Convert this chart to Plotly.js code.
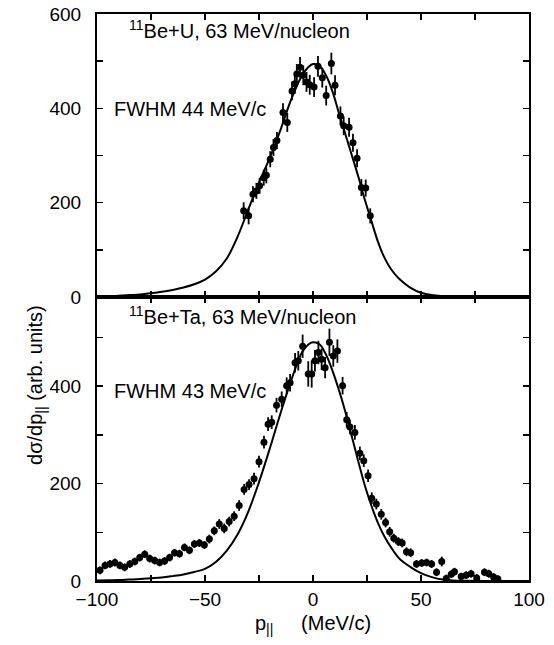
<!DOCTYPE html>
<html>
<head>
<meta charset="utf-8">
<script src="https://cdn.plot.ly/plotly-3.0.1.min.js"></script>
<style>html,body{margin:0;padding:0;background:#fff;}#chart{width:554px;height:645px;}</style>
</head>
<body>
<div id="chart"></div>
<script>
// ---- Data ----
// Upper panel: 11Be + U
const topP = [-32.1,-29.8,-27.8,-26.2,-24.7,-22.8,-21.6,-19.8,-18.3,-16.7,-13.9,-11.9,-9.7,-8.4,-7.5,-6.0,-4.5,-3.0,-1.5,0.5,2.3,4.3,6.1,8.5,10.2,12.7,14.2,16.7,18.5,20.4,22.4,24.4,26.5];
const topV = [183,172,218,225,236,253,258,292,317,332,391,370,437,452,473,487,470,456,450,445,489,465,427,495,449,384,363,360,327,294,232,231,172];
const topE = [18,18,17,17,17,17,17,17,18,18,20,20,20,21,21,22,21,21,21,21,22,21,21,23,21,20,20,20,19,19,18,18,16];
const topCurveP = [-100,-95,-90,-85,-80,-75,-70,-65,-60,-55,-50,-45,-40,-35,-30,-25,-20,-15,-10,-5,-2,0,3,6,9,12,15,18,21,24,27,30,33,36,40,45,50,55,60,65,70,80,100];
const topCurveV = [0.5,1.5,2.5,4,5.5,8,11,15,20,27,37,54,81,127,185,243,295,355,420,470,488,494,490,470,436,390,345,300,255,206,162,118,84,60,38,20,9,4,2,1,0.5,0,0];

// Lower panel: 11Be + Ta
const botP = [-98.6,-96.3,-94.0,-91.7,-89.4,-87.2,-84.8,-82.5,-80.2,-77.9,-75.6,-73.3,-71.0,-68.7,-66.4,-64.1,-61.8,-59.5,-57.2,-54.9,-52.6,-50.3,-48.0,-45.7,-43.4,-41.1,-38.8,-36.5,-34.2,-31.9,-29.6,-27.3,-25.0,-22.7,-20.8,-19.1,-16.9,-14.5,-12.2,-10.6,-8.3,-6.8,-4.8,-2.2,-0.6,0.9,2.5,4.0,5.6,7.6,9.4,11.3,13.7,15.6,17.1,19.4,21.7,23.5,25.5,27.2,29.3,31.6,33.6,35.5,37.4,39.5,41.3,43.3,45.2,47.9,50.3,52.6,54.9,57.2,59.6,61.7,64.0,65.5,68.6,70.9,73.2,75.8,79.4,81.4,83.6,85.6];
const botV = [22,32,35,38,32,28,35,40,48,55,46,42,38,41,48,58,56,69,63,76,78,74,86,103,117,108,122,133,155,188,198,210,245,285,322,326,361,373,401,407,448,452,482,425,425,452,469,455,438,490,462,472,401,331,316,305,262,247,216,170,158,137,120,101,88,81,78,60,58,35,37,38,35,18,40,5,14,19,9,12,15,6,18,15,8,4];
const botE = [8,8,8,8,8,8,8,8,8,8,8,8,8,8,8,8,8,8,8,8,8,8,
              9,9,10,10,10,10,11,11,11,12,
              12,13,14,14,15,16,17,18,
              20,20,24,26,28,22,24,22,22,28,22,24,
              18,16,15,15,14,13,13,12,11,11,10,10,
              9,9,9,9,9,8,8,8,8,8,10,8,8,8,8,8,8,8,8,8,8,8];
const botCurveP = [-100,-95,-90,-85,-80,-75,-70,-65,-60,-55,-50,-45,-40,-35,-30,-25,-20,-15,-10,-5,-2,0,3,6,9,12,15,18,21,24,27,30,33,36,40,45,50,55,60,65,70,80,100];
const botCurveV = [1,1.5,2,3,4,5.5,7,10,13.5,18.5,25,39,62,95,142,203,272,345,413,470,486,490,486,465,432,392,347,296,245,196,155,120,92,70,46,29,16,8,3,1,0.5,0,0];

// Text
const xTickVals = [-100,-50,0,50,100];
const labelTop = '<sup>11</sup>Be+U, 63 MeV/nucleon';
const fwhmTop = 'FWHM 44 MeV/c';
const labelBot = '<sup>11</sup>Be+Ta, 63 MeV/nucleon';
const fwhmBot = 'FWHM 43 MeV/c';
const xTitle = 'p<sub>||</sub>&#160;&#160;&#160;&#160;&#160;(MeV/c)';
const yTitle = 'dσ/dp<sub>||</sub> (arb. units)';

const FONT = 'Liberation Sans, Arial, Helvetica, sans-serif';

function dataTrace(x, y, e, xa, ya) {
  return {x: x, y: y, xaxis: xa, yaxis: ya, type: 'scatter', mode: 'markers',
    marker: {color: '#000', size: 7, symbol: 'circle'},
    error_y: {type: 'data', array: e, visible: true, color: '#000', thickness: 1.8, width: 0},
    hoverinfo: 'skip'};
}
function curveTrace(x, y, xa, ya) {
  return {x: x, y: y, xaxis: xa, yaxis: ya, type: 'scatter', mode: 'lines',
    line: {color: '#000', width: 2, shape: 'spline', smoothing: 1}, hoverinfo: 'skip'};
}

const traces = [
  curveTrace(topCurveP, topCurveV, 'x2', 'y2'),
  dataTrace(topP, topV, topE, 'x2', 'y2'),
  curveTrace(botCurveP, botCurveV, 'x', 'y'),
  dataTrace(botP, botV, botE, 'x', 'y')
];

const axisCommon = {
  showline: true, linewidth: 2, linecolor: '#000', mirror: 'allticks',
  ticks: 'inside', ticklen: 6, tickwidth: 1.5, tickcolor: '#000',
  showgrid: false, zeroline: false,
  tickfont: {family: FONT, size: 19, color: '#000'}
};

const split = 284 / 567;

const layout = {
  width: 554, height: 645,
  margin: {l: 97, r: 25, t: 14, b: 64},
  paper_bgcolor: '#fff', plot_bgcolor: '#fff',
  showlegend: false,
  font: {family: FONT, color: '#000'},
  xaxis: Object.assign({}, axisCommon, {
    anchor: 'y', domain: [0, 1], range: [-100, 100],
    tickvals: xTickVals,
    minor: {dtick: 25, tick0: 0, ticks: 'inside', ticklen: 6, tickwidth: 1.5, tickcolor: '#000'},
    title: {text: xTitle, font: {family: FONT, size: 20, color: '#000'}, standoff: 7}
  }),
  xaxis2: Object.assign({}, axisCommon, {
    anchor: 'y2', matches: 'x', domain: [0, 1], range: [-100, 100],
    tickvals: xTickVals, showticklabels: false,
    minor: {dtick: 25, tick0: 0, ticks: 'inside', ticklen: 6, tickwidth: 1.5, tickcolor: '#000'}
  }),
  yaxis: Object.assign({}, axisCommon, {
    anchor: 'x', domain: [0, split], range: [0, 583],
    dtick: 200, tick0: 0, ticklabelstandoff: 10,
    minor: {dtick: 100, tick0: 0, ticks: 'inside', ticklen: 6, tickwidth: 1.5, tickcolor: '#000'}
  }),
  yaxis2: Object.assign({}, axisCommon, {
    anchor: 'x2', domain: [split, 1], range: [0, 600],
    dtick: 200, tick0: 0, ticklabelstandoff: 10,
    minor: {dtick: 100, tick0: 0, ticks: 'inside', ticklen: 6, tickwidth: 1.5, tickcolor: '#000'}
  }),
  annotations: [
    {text: labelTop, xref: 'paper', yref: 'paper', x: 0.070, y: 0.972, xanchor: 'left', yanchor: 'middle', showarrow: false, font: {family: FONT, size: 20, color: '#000'}},
    {text: fwhmTop, xref: 'paper', yref: 'paper', x: 0.034, y: 0.8325, xanchor: 'left', yanchor: 'middle', showarrow: false, font: {family: FONT, size: 20, color: '#000'}},
    {text: labelBot, xref: 'paper', yref: 'paper', x: 0.070, y: 0.4674, xanchor: 'left', yanchor: 'middle', showarrow: false, font: {family: FONT, size: 20, color: '#000'}},
    {text: fwhmBot, xref: 'paper', yref: 'paper', x: 0.034, y: 0.335, xanchor: 'left', yanchor: 'middle', showarrow: false, font: {family: FONT, size: 20, color: '#000'}},
    {text: yTitle, xref: 'paper', yref: 'paper', x: -0.139, y: 0.3457, xanchor: 'center', yanchor: 'middle', textangle: -90, showarrow: false, font: {family: FONT, size: 20, color: '#000'}}
  ]
};

Plotly.newPlot('chart', traces, layout, {staticPlot: true, displayModeBar: false});
</script>
</body>
</html>
